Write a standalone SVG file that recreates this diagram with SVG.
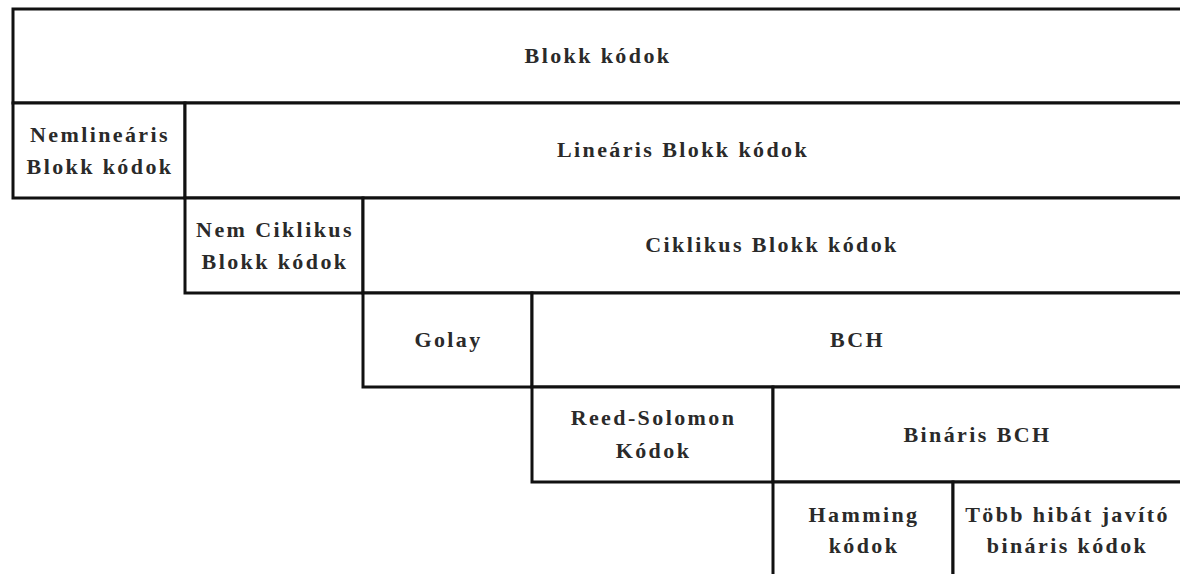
<svg xmlns="http://www.w3.org/2000/svg" width="1180" height="574" viewBox="0 0 1180 574">
<style>
.box{fill:#fff;stroke:#111;stroke-width:3}
.t{font-family:"Liberation Serif","Times New Roman",serif;font-weight:bold;font-size:22px;letter-spacing:2.4px;fill:#2a2a2a;text-anchor:middle}
</style>
<rect width="1180" height="574" fill="#fff"/>
<g id="connectors"></g>
<g id="blokk-kodok"><rect class="box" x="13" y="9" width="1172" height="94"/><text class="t" x="598" y="63">Blokk kódok</text></g>
<g id="nemlinearis"><rect class="box" x="13" y="103" width="172" height="95"/><text class="t" x="100" y="142">Nemlineáris</text><text class="t" x="100" y="174">Blokk kódok</text></g>
<g id="linearis"><rect class="box" x="185" y="103" width="1000" height="95"/><text class="t" x="683" y="157">Lineáris Blokk kódok</text></g>
<g id="nem-ciklikus"><rect class="box" x="185" y="198" width="178" height="95"/><text class="t" x="275" y="237">Nem Ciklikus</text><text class="t" x="275" y="269">Blokk kódok</text></g>
<g id="ciklikus"><rect class="box" x="363" y="198" width="822" height="95"/><text class="t" x="772" y="252">Ciklikus Blokk kódok</text></g>
<g id="golay"><rect class="box" x="363" y="293" width="169" height="94"/><text class="t" x="448.5" y="347">Golay</text></g>
<g id="bch"><rect class="box" x="532" y="293" width="653" height="94"/><text class="t" x="857.5" y="347">BCH</text></g>
<g id="reed-solomon"><rect class="box" x="532" y="387" width="241" height="95"/><text class="t" x="653.5" y="425">Reed-Solomon</text><text class="t" x="653.5" y="458">Kódok</text></g>
<g id="binaris-bch"><rect class="box" x="773" y="387" width="412" height="95"/><text class="t" x="977.5" y="442">Bináris BCH</text></g>
<g id="hamming"><rect class="box" x="773" y="482" width="180" height="100"/><text class="t" x="864" y="522">Hamming</text><text class="t" x="864" y="553">kódok</text></g>
<g id="tobb-hibat"><rect class="box" x="953" y="482" width="232" height="100"/><text class="t" x="1067.5" y="522">Több hibát javító</text><text class="t" x="1067.5" y="553">bináris kódok</text></g>
</svg>
